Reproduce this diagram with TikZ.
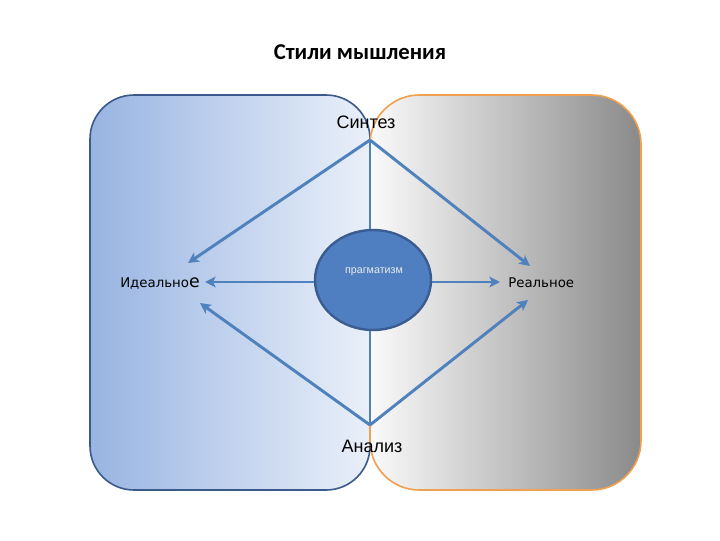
\documentclass[tikz,border=0pt]{standalone}
\usepackage{fontspec}
\setmainfont{Liberation Sans}
\newfontfamily\titlef{Carlito}
\newfontfamily\widef{DejaVu Sans}
\usetikzlibrary{arrows.meta,shapes.geometric}
\definecolor{bluel}{HTML}{98B4E2}
\definecolor{bluer}{HTML}{EAF0F9}
\definecolor{greyl}{HTML}{FAFAFA}
\definecolor{greyr}{HTML}{8A8A8A}
\definecolor{bborder}{HTML}{3B5A8C}
\definecolor{oborder}{HTML}{F0A04E}
\definecolor{arrowc}{HTML}{4F81BD}
\definecolor{ellfill}{HTML}{4F7FC0}
\definecolor{ellbord}{HTML}{3A5C90}
\tikzset{
  conn/.style={draw=arrowc, line width=2.2pt, -{Stealth[length=8pt,width=8pt,inset=2pt]}},
  plainconn/.style={draw=arrowc, line width=2.2pt},
  lbl/.style={inner sep=0pt, text=black},
}
\begin{document}
\begin{tikzpicture}[x=0.75pt,y=-0.75pt]
\useasboundingbox (0,0) rectangle (720,540);
% backgrounds
\fill[rounded corners=33pt, left color=bluel, right color=bluer] (90,95) rectangle (370,490);
\fill[rounded corners=37pt, left color=greyl, right color=greyr] (370,95) rectangle (641,490);
\draw[rounded corners=33pt, draw=bborder, line width=1.2pt] (90,95) rectangle (370,490);
\draw[rounded corners=37pt, draw=oborder, line width=1.2pt] (370,95) rectangle (641,490);
% title
\node[lbl] (title) at (360,52) {\titlef\bfseries\fontsize{17}{20}\selectfont Стили мышления};
% labels
\node[lbl] (syn) at (366,122) {\fontsize{13.5}{15}\selectfont Синтез};
\node[lbl] (ana) at (372,446) {\fontsize{13.5}{15}\selectfont Анализ};
\node[lbl, anchor=west] (ideal) at (120,284) {\widef\fontsize{10}{12}\selectfont Идеально\fontsize{13}{15}\selectfont е};
\node[lbl, anchor=west] (real) at (508,283) {\widef\fontsize{10}{12}\selectfont Реальное};
% apex coordinates
\coordinate (top) at (370,140);
\coordinate (bot) at (370,425);
\coordinate (tl) at (188,263);
\coordinate (tr) at (530,266);
\coordinate (bl) at (200,303);
\coordinate (br) at (528,300);
\coordinate (hl) at (205,282);
\coordinate (hr) at (500,282);
% vertical line
\draw[plainconn] (top) -- (bot);
% ellipse
\node[ellipse, draw=ellbord, line width=1.8pt, fill=ellfill, minimum width=116*0.75pt, minimum height=100*0.75pt, inner sep=0pt] (prag) at (373,280) {};
\node[lbl, text=white!92!black] (pragt) at (374,272) {\fontsize{8}{9}\selectfont прагматизм};
% arrows
\draw[conn] (top) -- (tl);
\draw[conn] (top) -- (tr);
\draw[conn] (bot) -- (bl);
\draw[conn] (bot) -- (br);
\draw[conn] (prag.west |- hl) -- (hl);
\draw[conn] (prag.east |- hr) -- (hr);
\end{tikzpicture}
\end{document}
